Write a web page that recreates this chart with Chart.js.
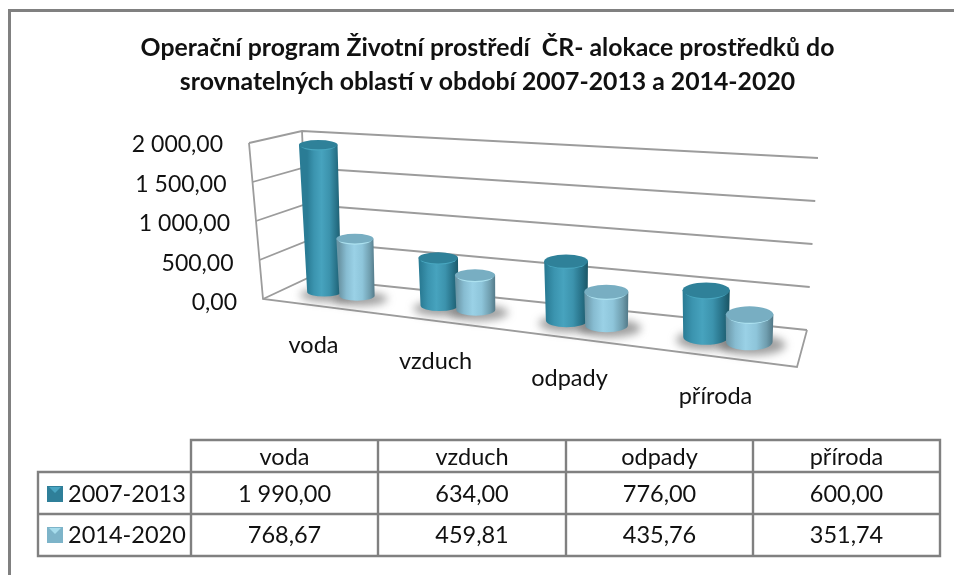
<!DOCTYPE html>
<html><head><meta charset="utf-8">
<style>html,body{margin:0;padding:0;background:#fff;overflow:hidden}#w{position:relative;width:954px;height:575px}</style>
<script src="https://cdn.jsdelivr.net/npm/chart.js@4"></script>
</head><body><div id="w"><canvas id="c" width="954" height="575"></canvas></div>
<script>
const titleLines = ["Operační program Životní prostředí  ČR- alokace prostředků do","srovnatelných oblastí v období 2007-2013 a 2014-2020"];
const categories = ["voda","vzduch","odpady","příroda"];
const series1Name = "2007-2013";
const series2Name = "2014-2020";
const series1 = [1990.00,634.00,776.00,600.00];
const series2 = [768.67,459.81,435.76,351.74];
const fmt = v => { const [a,b]=v.toFixed(2).split('.'); return a.replace(/\B(?=(\d{3})+$)/g,'\u00a0')+','+b; };
const FONT='Lato, Carlito, sans-serif';
const lerp=(a,b,k)=>[a[0]+(b[0]-a[0])*k,a[1]+(b[1]-a[1])*k];
const wall={f0:[263,299],ft:[249,143],b0:[308,278],bt:[302,131],r0:[807,330],rt:[818,158],fr:[797,367]};
const palette=[
 {stops:['#2a7c95','#3b94af','#47a3be','#3c93ad','#266f85','#1c5868'],top:'#2f8199',rim:'#48a6bf',key:'#2f7f99'},
 {stops:['#6b96a6','#87bcd1','#9ad1e6','#8ec5da','#6f9dae','#537a89'],top:'#78aec2',rim:'#ade2f0',key:'#7db4c9'}];
const perspective={
 id:'perspective',
 beforeDatasetsDraw(chart){
  const c=chart.ctx,a=chart.chartArea,ys=chart.scales.y,xs=chart.scales.x,n=categories.length,catW=a.width/n;
  const X=t=>340.5+111*t+6*t*t, dX=t=>111+12*t;
  c.save();
  // frame
  c.strokeStyle='#808080';c.lineWidth=3;c.beginPath();c.moveTo(954,10.5);c.lineTo(9.5,10.5);c.lineTo(9.5,575);c.stroke();
  // walls and gridlines from the y scale ticks
  c.strokeStyle='#9c9c9c';c.lineWidth=1.8;
  ys.ticks.forEach(tk=>{
   const h=(a.bottom-ys.getPixelForValue(tk.value))/a.height;
   const p=lerp(wall.f0,wall.ft,h),q=lerp(wall.b0,wall.bt,h),r=lerp(wall.r0,wall.rt,h);
   c.beginPath();c.moveTo(p[0],p[1]);c.lineTo(q[0],q[1]);c.lineTo(r[0],r[1]);c.stroke();
   c.fillStyle='#111';c.font='23px '+FONT;c.textAlign='right';c.textBaseline='middle';
   c.fillText(fmt(tk.value),p[0]-26,p[1]+2+(1-h)*2);
  });
  c.beginPath();c.moveTo(...wall.ft);c.lineTo(...wall.f0);c.lineTo(...wall.fr);c.lineTo(...wall.r0);c.stroke();
  c.beginPath();c.moveTo(...wall.bt);c.lineTo(...wall.b0);c.stroke();
  // category labels
  c.fillStyle='#111';c.font='23.5px '+FONT;c.textAlign='center';
  categories.forEach((_,i)=>{
   const t=(xs.getPixelForValue(i)-a.left)/catW-.5, x=X(t)-27+5*t;
   c.fillText(xs.getLabelForValue(i),x,304.4+.127*(x-263)+35);
  });
  // cylinders
  const geo=[];
  for(let j=0;j<n;j++)[0,1].forEach(d=>{
   const el=chart.getDatasetMeta(d).data[j];
   const t=(el.x-a.left)/catW-.5, cx=X(t), fy=292+.118*(cx-325);
   const h=(el.base-el.y)/a.height, hp=h*(148+.02*(cx-325));
   const rb=1.06*dX(t)*(el.width/catW)/2, rt=rb*(1+.13*h);
   geo.push({d,cx,fy,rb,rt,tx:cx+(cx-660)*.018*h,ty:fy-hp,ry:rb*(.27+.0002*(cx-325))});
  });
  geo.forEach(g=>{
   c.save();c.filter='blur(4px)';c.fillStyle='rgba(95,95,95,.6)';
   c.beginPath();c.ellipse(g.cx+3,g.fy+3,g.rb+10,g.ry+2,0,0,7);c.fill();c.restore();
  });
  geo.forEach(g=>{
   const p=palette[g.d];
   const gr=c.createLinearGradient(g.cx-g.rb,0,g.cx+g.rb,0);
   p.stops.forEach((s,k)=>gr.addColorStop([0,.2,.42,.65,.87,1][k],s));
   c.fillStyle=gr;
   c.beginPath();c.moveTo(g.tx-g.rt,g.ty);c.lineTo(g.cx-g.rb,g.fy);
   c.ellipse(g.cx,g.fy,g.rb,g.ry,0,Math.PI,0,true);
   c.lineTo(g.tx+g.rt,g.ty);c.closePath();c.fill();
   // lit rim then cap
   c.fillStyle=p.rim;c.beginPath();c.ellipse(g.tx,g.ty+1.2,g.rt*.92,g.ry,0,0,7);c.fill();
   c.fillStyle=p.top;c.beginPath();c.ellipse(g.tx,g.ty,g.rt,g.ry,0,0,7);c.fill();
  });
  // data table
  c.strokeStyle='#808080';c.lineWidth=2.4;c.lineCap='square';
  const colX=[191,378,566,753,940],rowY=[440,472,514,556],L=38;
  c.beginPath();
  c.moveTo(colX[0],rowY[0]);c.lineTo(colX[4],rowY[0]);
  rowY.slice(1).forEach(y=>{c.moveTo(L,y);c.lineTo(colX[4],y)});
  colX.forEach(x=>{c.moveTo(x,rowY[0]);c.lineTo(x,rowY[3])});
  c.moveTo(L,rowY[1]);c.lineTo(L,rowY[3]);c.stroke();
  c.fillStyle='#111';c.font='23.5px '+FONT;c.textAlign='center';c.textBaseline='middle';
  const rows=[series1,series2],names=[series1Name,series2Name],rowMid=[494,535];
  categories.forEach((cat,i)=>{
   const mx=(colX[i]+colX[i+1])/2;
   c.fillText(cat,mx,457);
   rows.forEach((r,k)=>c.fillText(fmt(r[i]),mx,rowMid[k]));
  });
  c.textAlign='left';
  names.forEach((nm,k)=>{
   const y=rowMid[k],p=palette[k];
   c.fillStyle=p.key;c.fillRect(47,y-8,16,16);
   c.fillStyle=k?'#a6dcec':'#49a5c2';c.beginPath();c.moveTo(49,y-7);c.lineTo(61,y-7);c.lineTo(55,y-1);c.closePath();c.fill();
   c.fillStyle='#111';c.fillText(nm,68,y);
  });
  c.restore();
  return false;
 }
};
new Chart(document.getElementById('c'),{
 type:'bar',
 data:{labels:categories,datasets:[
  {label:series1Name,data:series1,backgroundColor:'#3a8fab'},
  {label:series2Name,data:series2,backgroundColor:'#86bfd6'}]},
 options:{
  responsive:false,animation:false,
  layout:{padding:{left:60,right:39,top:31,bottom:273}},
  datasets:{bar:{categoryPercentage:.59,barPercentage:1}},
  scales:{
   x:{display:false,offset:true,grid:{display:false}},
   y:{display:false,min:0,max:2000,ticks:{stepSize:500}}
  },
  plugins:{legend:{display:false},tooltip:{enabled:false},
   title:{display:true,text:titleLines,color:'#111',font:{family:FONT,weight:'bold',size:24.8,lineHeight:1.37},padding:{top:0,bottom:44}}}
 },
 plugins:[perspective]
});
</script></body></html>
